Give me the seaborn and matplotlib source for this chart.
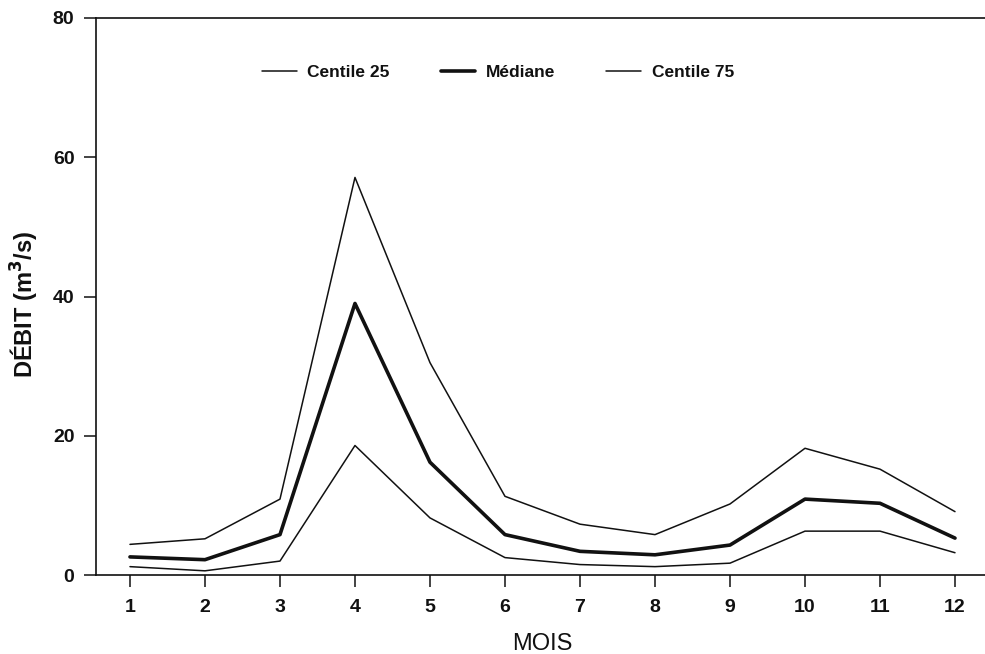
import matplotlib
matplotlib.use("Agg")
import matplotlib.pyplot as plt
import seaborn as sns
import pandas as pd

mois = [1, 2, 3, 4, 5, 6, 7, 8, 9, 10, 11, 12]
centile25 = [1.2, 0.6, 2.0, 18.6, 8.2, 2.5, 1.5, 1.2, 1.7, 6.3, 6.3, 3.2]
mediane = [2.6, 2.2, 5.8, 39.0, 16.2, 5.8, 3.4, 2.9, 4.3, 10.9, 10.3, 5.3]
centile75 = [4.4, 5.2, 10.9, 57.1, 30.5, 11.3, 7.3, 5.8, 10.2, 18.2, 15.2, 9.1]
y_ticks = [0, 20, 40, 60, 80]

sns.set_theme(style="white")
plt.rcParams['font.family'] = ['Liberation Sans', 'DejaVu Sans']

fig = plt.figure(figsize=(9.85, 6.54), dpi=100)
ax = fig.add_axes([96/985, 1-575/654, 1-96/985, (575-18)/654])

df25 = pd.DataFrame({"mois": mois, "val": centile25})
dfm = pd.DataFrame({"mois": mois, "val": mediane})
df75 = pd.DataFrame({"mois": mois, "val": centile75})

sns.lineplot(data=df25, x="mois", y="val", ax=ax, color="#111111", lw=1.1, label="Centile 25")
sns.lineplot(data=dfm, x="mois", y="val", ax=ax, color="#111111", lw=2.6, label="Médiane")
sns.lineplot(data=df75, x="mois", y="val", ax=ax, color="#111111", lw=1.1, label="Centile 75")

ax.set_xlim(0.547, 12.4)
ax.set_ylim(0, 80)
ax.set_xticks(mois)
ax.set_yticks(y_ticks)
ax.tick_params(axis='x', direction='out', length=8.5, width=1.1, pad=8.5, labelsize=14, colors='#111111', bottom=True)
ax.tick_params(axis='y', direction='out', length=8.5, width=1.1, pad=7, labelsize=14, colors='#111111', left=True)
for lab in ax.get_xticklabels() + ax.get_yticklabels():
    lab.set_fontweight('bold')

for s in ['left', 'bottom', 'top']:
    ax.spines[s].set_visible(True)
    ax.spines[s].set_color('#111111')
    ax.spines[s].set_linewidth(1.2)
ax.spines['right'].set_visible(False)

ax.set_xlabel("MOIS", fontsize=17, color='#111111')
ax.xaxis.set_label_coords(0.502, -0.104)
ax.set_ylabel("DÉBIT (m$^\\mathbf{3}$/s)", fontsize=17, fontweight='bold', color='#111111')
ax.yaxis.set_label_coords(-0.0615, 0.485)

leg = ax.legend(loc='center', bbox_to_anchor=(0.452, 0.903), ncol=3, frameon=False,
                handlelength=2.0, columnspacing=2.95, handletextpad=0.6,
                prop={'weight': 'bold', 'size': 12.5})
for t in leg.get_texts():
    t.set_color('#111111')

fig.savefig("out.png", dpi=100)
